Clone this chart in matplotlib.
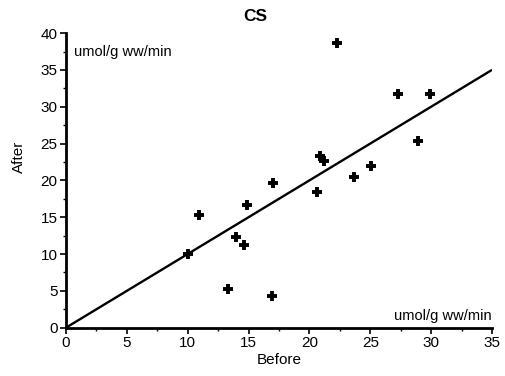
import matplotlib
matplotlib.use('Agg')
import matplotlib.pyplot as plt
from matplotlib.ticker import MultipleLocator

plt.rcParams['font.family'] = ['Liberation Sans', 'DejaVu Sans']

# ── data ─────────────────────────────────────────────────────────────────
before = [10.0, 10.9, 13.3, 14.0, 14.6, 14.9, 16.9, 17.0, 20.6, 20.9, 21.2,
          22.3, 23.7, 25.1, 27.3, 28.9, 29.9]
after = [10.0, 15.3, 5.3, 12.3, 11.2, 16.6, 4.3, 19.7, 18.4, 23.3, 22.7,
         38.7, 20.4, 22.0, 31.7, 25.3, 31.7]
line_x = [0, 35]
line_y = [0, 35]
unit = "umol/g ww/min"

# ── figure ───────────────────────────────────────────────────────────────
fig = plt.figure(figsize=(5.06, 3.76), dpi=100)
fig.patch.set_facecolor('white')
ax = fig.add_axes([0.1304, 0.1285, 0.8419, 0.7835])

ax.plot(line_x, line_y, color='black', linewidth=1.7, solid_capstyle='butt')
ax.plot(before, after, linestyle='none', marker='+', markersize=7,
        markeredgewidth=2.8, color='black')

ax.set_xlim(0, 35)
ax.set_ylim(0, 40)
ax.xaxis.set_major_locator(MultipleLocator(5))
ax.yaxis.set_major_locator(MultipleLocator(5))
ax.xaxis.set_minor_locator(MultipleLocator(2.5))
ax.yaxis.set_minor_locator(MultipleLocator(2.5))

for side in ['top', 'right']:
    ax.spines[side].set_visible(False)
for side in ['left', 'bottom']:
    ax.spines[side].set_linewidth(2)
ax.tick_params(which='major', direction='out', length=4, width=1.2,
               labelsize=11, pad=2)
ax.tick_params(which='minor', direction='out', length=2, width=1)

ax.set_xlabel("Before", fontsize=11, labelpad=2)
ax.set_ylabel("After", fontsize=11)
ax.yaxis.set_label_coords(-0.095, 0.58)

ax.text(0.019, 0.935, unit, transform=ax.transAxes, fontsize=10.5,
        ha='left', va='center')
ax.text(1.0, 0.04, unit, transform=ax.transAxes, fontsize=10.5,
        ha='right', va='center')

fig.text(0.505, 0.955, "CS", ha='center', va='center', fontsize=12.5,
         fontweight='bold')

fig.savefig("out.png", dpi=100, facecolor='white')
